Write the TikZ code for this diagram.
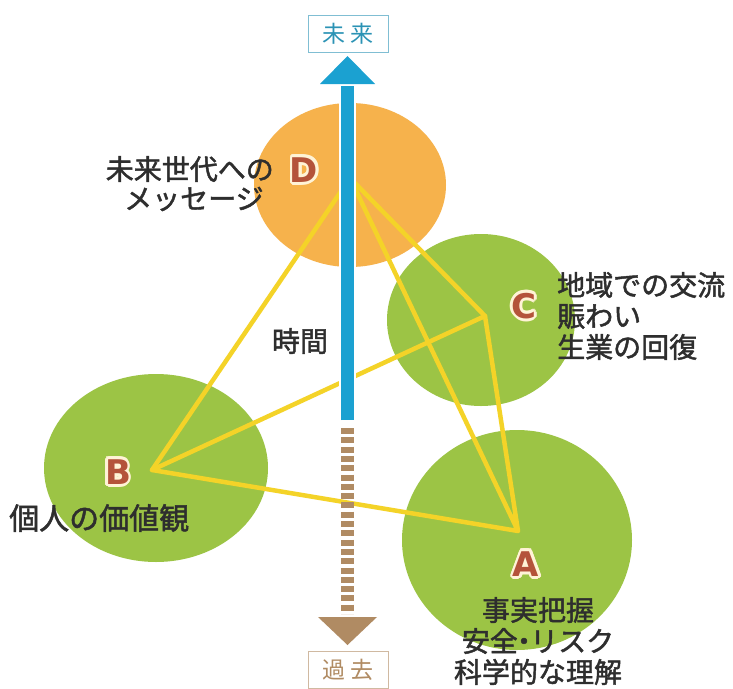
\documentclass[tikz,border=0pt]{standalone}
\usepackage{fontspec}
\setmainfont{Noto Sans CJK JP}
\newfontfamily\lblfont[FakeBold=1.6]{Noto Sans CJK JP}
\newfontfamily\badgefont{DejaVu Sans}
\usetikzlibrary{shapes.geometric,arrows.meta,calc}
\definecolor{dorange}{HTML}{F6B24C}
\definecolor{dgreen}{HTML}{9CC445}
\definecolor{dyellow}{HTML}{F4D328}
\definecolor{dblue}{HTML}{1BA1D1}
\definecolor{dbrown}{HTML}{B08B63}
\definecolor{dletter}{HTML}{B4533A}
\definecolor{dcream}{HTML}{FFF3D6}
\definecolor{dtext}{HTML}{2E2E2E}
\definecolor{dteal}{HTML}{2B93B5}
\newcommand{\mybadge}[3]{%
  \foreach \ang in {0,30,...,330}{
    \node[badgestyle,text=dcream] at ($(#1)+(\ang:2.8)$) {#3};
  }
  \node[badgestyle,text=dletter] (#2) at (#1) {#3};
}
\begin{document}
\begin{tikzpicture}[x=1pt,y=-1pt,
  blob/.style={ellipse,inner sep=0pt},
  tie/.style={draw=dyellow,line width=4.5pt,line join=round,line cap=round},
  badgestyle/.style={font=\badgefont\bfseries\fontsize{34}{34}\selectfont,inner sep=0pt},
  lbl/.style={font=\lblfont\fontsize{28}{31}\selectfont,text=dtext,inner sep=0pt},
  tbox/.style={draw=#1!60,line width=0.9pt,fill=white,minimum width=80pt,minimum height=37pt,font=\fontsize{23}{23}\selectfont,text=#1,inner sep=0pt}]
\useasboundingbox (0,0) rectangle (733,688);
\fill[white] (0,0) rectangle (733,688);
% circles
\node[blob,fill=dorange,minimum width=192pt,minimum height=164pt] (D) at (350,185) {};
\node[blob,fill=dgreen,minimum width=188pt,minimum height=172pt] (C) at (481,320) {};
\node[blob,fill=dgreen,minimum width=224pt,minimum height=188pt] (B) at (156,468) {};
\node[blob,fill=dgreen,minimum width=230pt,minimum height=220pt] (A) at (517,540) {};
% vertices
\coordinate (vD) at (350,178);
\coordinate (vC) at (485,316);
\coordinate (vB) at (152,470);
\coordinate (vA) at (518,531);
\draw[tie] (vD) -- (vB) -- (vA) -- (vC) -- (vD) -- (vA);
\draw[tie] (vB) -- (vC);
% past arrow
\coordinate (p0) at (347.5,428);
\coordinate (p1) at (347.5,614);
\coordinate (pt) at (347.5,645);
\draw[dbrown,line width=13pt,dash pattern=on 6pt off 3.3pt] (p0) -- (p1);
\fill[dbrown] (318,617) -- (377,617) -- (pt) -- cycle;
% future arrow
\coordinate (f0) at (347.5,420);
\coordinate (f1) at (347.5,84);
\coordinate (ft) at (347.5,56);
\draw[white,line width=17pt] (f0) -- (f1);
\fill[white] (316,86) -- (379,86) -- (347.5,53) -- cycle;
\draw[dblue,line width=13pt] (f0) -- ($(f1)+(0,2)$);
\fill[dblue] (320,84) -- (375,84) -- (ft) -- cycle;
% labels boxes
\node[tbox=dteal] (future) at (348,34) {未\hspace{6pt}来};
\node[tbox=dbrown] (past) at (348,670) {過\hspace{6pt}去};
\node[lbl] (time) at (300,341) {時間};
% badges
\mybadge{304,170}{bD}{D}
\mybadge{524,306}{bC}{C}
\mybadge{118,472}{bB}{B}
\mybadge{526,564}{bA}{A}
% texts
\node[lbl,anchor=east] (tD1) at (274,169) {未来世代への};
\node[lbl,anchor=west] (tD2) at (124,199) {メッセージ};
\node[lbl,align=left,anchor=west] (tC) at (557,316) {地域での交流\\賑わい\\生業の回復};
\node[lbl,anchor=west,font=\lblfont\fontsize{30}{30}\selectfont] (tB) at (9,518) {個人の価値観};
\node[lbl,align=center] (tA) at (538,641) {事実把握\\安全\hspace{-0.28em}・\hspace{-0.28em}リスク\\科学的な理解};
\end{tikzpicture}
\end{document}
